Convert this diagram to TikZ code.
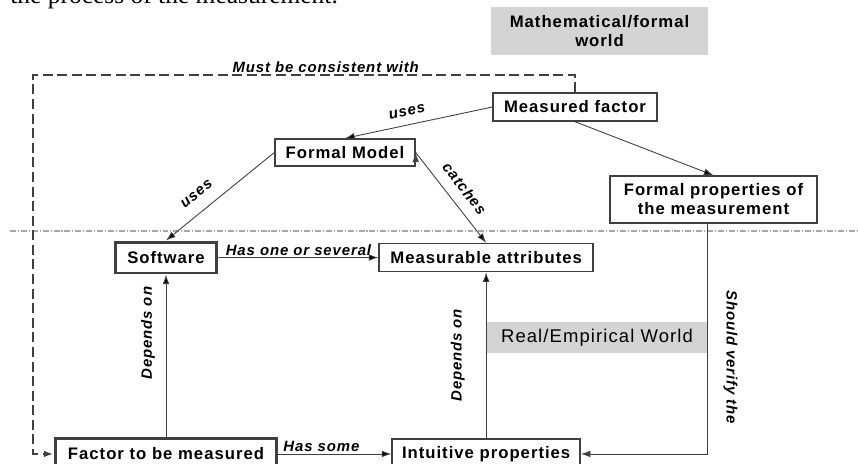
\documentclass[tikz,border=0pt]{standalone}
\usepackage{fontspec}
\setmainfont{Liberation Sans}
\newfontfamily\spaced[LetterSpace=6]{Liberation Sans}
\newfontfamily\bookfont{Liberation Serif}
\usetikzlibrary{positioning,calc,arrows.meta}

\definecolor{linegray}{HTML}{404040}
\definecolor{boxgray}{HTML}{D4D4D4}
\definecolor{sepgray}{HTML}{A8A8A8}

\tikzset{
  box/.style={draw=linegray,line width=0.8pt,fill=white,inner sep=0pt,align=center,
    font=\spaced\bfseries\fontsize{9.5}{10.8}\selectfont},
  thickbox/.style={box,line width=1.7pt},
  world/.style={fill=boxgray,inner sep=0pt,align=center},
  lbl/.style={font=\spaced\bfseries\itshape\fontsize{8.5}{10}\selectfont,inner sep=1pt},
  conn/.style={->,draw=linegray,line width=0.5pt},
  dashline/.style={->,draw=linegray,line width=1.1pt,dash pattern=on 5.7pt off 2.6pt},
  sepline/.style={draw=sepgray,line width=0.6pt,dash pattern=on 3.4pt off 1.1pt on 0.6pt off 1.1pt},
}

\begin{document}
\begin{tikzpicture}[x=0.02cm,y=-0.02cm,>={Latex[length=5.5pt,width=3.8pt]}]

\useasboundingbox (0,0) rectangle (858,463);

\node [font=\bookfont\fontsize{14.5}{16}\selectfont,anchor=base west,inner sep=0pt] (caption) at (10,4) {the process of the measurement.};

% separator between the two worlds
\coordinate (sepl) at (10,231);
\coordinate (sepr) at (858,231);
\draw [sepline] (sepl) -- (sepr);

\node [world,minimum width=4.34cm,minimum height=0.96cm,
  font=\spaced\bfseries\fontsize{9.5}{10.8}\selectfont] (mathw) at (599.5,31) {Mathematical/formal\\world};

\node [box,minimum width=3.28cm,minimum height=0.56cm] (mfactor) at (575,107) {Measured factor};
\node [box,minimum width=2.8cm,minimum height=0.54cm] (fmodel) at (345,152.5) {Formal Model};
\node [box,minimum width=4.14cm,minimum height=0.94cm] (fprops) at (713.5,199.5) {Formal properties of\\the measurement};

\node [thickbox,minimum width=2.04cm,minimum height=0.62cm] (software) at (166,257.5) {Software};
\node [thickbox,minimum width=4.44cm,minimum height=0.6cm] (factor) [below=3.26cm of software] {Factor to be measured};
\node [box,minimum width=3.76cm,minimum height=0.6cm] (intuit) [right=2.26cm of factor] {Intuitive properties};
\node [box,minimum width=4.28cm,minimum height=0.56cm] (mattr) [above=3.32cm of intuit] {Measurable attributes};

\node [world,minimum width=4.4cm,minimum height=0.62cm,
  font=\spaced\fontsize{10.5}{12}\selectfont] (realw) at (597,337.5) {Real/Empirical World};

\path [conn]
	(mfactor.west)
		edge node [lbl,above=4pt,sloped,pos=0.56] {uses} (fmodel.north)
	(mfactor.south)
		edge (fprops.north)
	(fmodel.west)
		edge node [lbl,above=6pt,sloped,pos=0.62] {uses} (software.north)
	(fmodel.east)
		edge node [lbl,above=5pt,sloped,pos=0.51] {catches} (mattr.north)
	(software)
		edge node [lbl,above] {Has one or several} (mattr)
	(factor)
		edge node [lbl,above,pos=0.38] {Has some} (intuit)
		edge node [lbl,above=5pt,sloped,pos=0.64] {Depends on} (software)
	(intuit)
		edge node [lbl,above=11pt,sloped,pos=0.5] {Depends on} (mattr)
;

\draw [conn] (fprops.south -| realw.east) |- node [lbl,above=8pt,sloped,pos=0.29] {Should verify the} (intuit.east);

\coordinate (dtop) at (33,75);
\draw [dashline] (mfactor.north) |- node [lbl,above,pos=0.73] {Must be consistent with} (dtop) |- (factor.west);

\end{tikzpicture}
\end{document}
